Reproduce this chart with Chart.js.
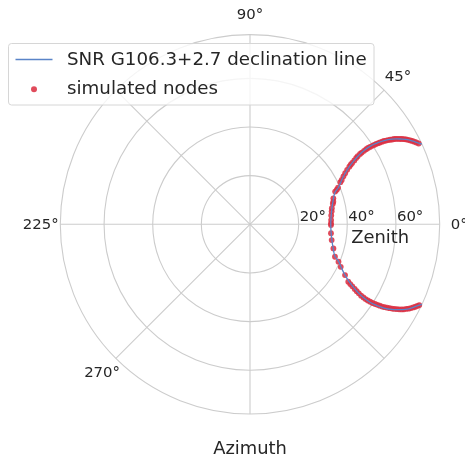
<!DOCTYPE html>
<html>
<head>
<meta charset="utf-8">
<script src="https://cdn.jsdelivr.net/npm/chart.js@4"></script>
<style>
  html, body { margin: 0; padding: 0; background: #fff; }
  #wrap { width: 465px; height: 455px; }
</style>
</head>
<body>
<div id="wrap"><canvas id="chart" width="465" height="455"></canvas></div>
<script>
// declination line (azimuth deg, zenith deg)
const lineAzimuth = [-25.0, -26.0, -28.0, -29.6, -31.0, -32.0, -32.6, -33.0, -32.9, -32.4, -31.4, -30.1, -28.2, -25.8, -22.6, -20.6, -15.8, -11.0, -5.5,
                     0, 5.5, 11.0, 15.8, 20.6, 22.6, 25.8, 28.2, 30.1, 31.4, 32.4, 32.9, 33.0, 32.6, 32.0, 31.0, 29.6, 28.0, 26.0, 25.0];
const lineZenith = [78.0, 76.5, 74.0, 71.0, 68.0, 65.0, 62.0, 59.0, 56.0, 53.0, 50.0, 47.2, 44.4, 41.9, 39.4, 37.3, 35.5, 34.3, 33.5,
                    33.2, 33.5, 34.3, 35.5, 37.3, 39.4, 41.9, 44.4, 47.2, 50.0, 53.0, 56.0, 59.0, 62.0, 65.0, 68.0, 71.0, 74.0, 76.5, 78.0];

// simulated nodes
const nodeAzimuth = [0.6, 3.0, 6.2, 9.0, 11.1, 14.0, 15.2, 17.3, 21.0, 21.7, 22.6, 25.0, 25.8, 27.2, 28.2, 29.3, 30.1, 30.6, 31.0, 31.5,
                     32.0, 32.3, 32.6, 32.7, 32.8, 32.9, 32.9, 32.8, 32.7, 32.6, 32.5, 32.3, 32.2, 32.0, 31.9, 31.6, 31.4, 31.1, 30.8, 30.6,
                     30.3, 30.0, 29.6, 29.3, 28.9, 28.5, 28.1, 27.6, 27.2, 26.7, 26.2, 25.6,
                     -0.5, -6.3, -10.9, -16.1, -20.9, -22.9, -25.1, -28.1, -30.3, -30.8, -31.2, -31.7, -32.1, -32.4, -32.7, -32.8, -32.9, -32.9,
                     -32.8, -32.7, -32.5, -32.3, -32.1, -31.9, -31.6, -31.3, -31.0, -30.7, -30.4, -30.0, -29.7, -29.3, -28.9, -28.4, -28.0,
                     -27.5, -27.0, -26.5, -26.0, -25.5];
const nodeZenith = [33.3, 33.4, 33.6, 34.0, 34.3, 35.1, 35.5, 35.9, 37.5, 38.4, 39.2, 41.0, 41.9, 43.2, 44.4, 45.8, 47.2, 48.1, 49.0, 50.3,
                    51.5, 52.4, 53.7, 54.6, 55.8, 56.9, 57.8, 58.7, 59.7, 60.6, 61.5, 62.4, 63.2, 64.1, 64.9, 65.7, 66.5, 67.3, 68.1, 68.9,
                    69.6, 70.3, 71.0, 71.7, 72.4, 73.1, 73.7, 74.4, 75.0, 75.6, 76.2, 76.9,
                    33.3, 33.5, 34.2, 35.7, 37.4, 39.5, 41.2, 44.3, 46.8, 48.0, 49.2, 50.6, 51.8, 53.0, 54.3, 55.5, 56.6, 57.7,
                    58.8, 59.9, 61.0, 62.0, 63.0, 64.0, 65.0, 66.0, 67.0, 67.9, 68.8, 69.7, 70.6, 71.5, 72.3, 73.1, 73.9,
                    74.6, 75.3, 76.0, 76.6, 77.1];

const zenithTicks = [20, 40, 60];
const zenithMax = 78;
const angleGrid = [0, 45, 90, 135, 180, 225, 270, 315];
const angleTickLabels = ['0°', '45°', '90°', '', '225°', '270°', '', ''];

const lineLabel = 'SNR G106.3+2.7 declination line';
const nodeLabel = 'simulated nodes';

const FONT = "'DejaVu Sans', sans-serif";
const TEXT = '#262626';
const GRID = '#cccccc';
const BLUE = '#5a84c8';
const RED = 'rgba(220, 50, 68, 0.88)';

function toXY(az, zen) {
    const a = az * Math.PI / 180;
    return { x: zen * Math.cos(a), y: zen * Math.sin(a) };
}

const polarGrid = {
    id: 'polarGrid',
    beforeDatasetsDraw(chart) {
        const { ctx, scales: { x, y } } = chart;
        const cx = x.getPixelForValue(0);
        const cy = y.getPixelForValue(0);
        const px = r => x.getPixelForValue(r) - cx;
        ctx.save();
        ctx.strokeStyle = GRID;
        ctx.lineWidth = 1.1;
        zenithTicks.concat([zenithMax]).forEach(r => {
            ctx.beginPath();
            ctx.arc(cx, cy, px(r), 0, Math.PI * 2);
            ctx.stroke();
        });
        const R = px(zenithMax);
        angleGrid.forEach(a => {
            const t = a * Math.PI / 180;
            ctx.beginPath();
            ctx.moveTo(cx, cy);
            ctx.lineTo(cx + R * Math.cos(t), cy - R * Math.sin(t));
            ctx.stroke();
        });

        ctx.fillStyle = TEXT;
        ctx.font = '14.9px ' + FONT;
        ctx.textAlign = 'center';
        ctx.textBaseline = 'middle';
        angleGrid.forEach((a, i) => {
            if (!angleTickLabels[i]) return;
            const t = a * Math.PI / 180;
            const d = R + 19.5;
            ctx.fillText(angleTickLabels[i], cx + d * Math.cos(t), cy - d * Math.sin(t) + 0.5);
        });
        ctx.textAlign = 'left';
        ctx.textBaseline = 'alphabetic';
        zenithTicks.forEach(r => {
            ctx.fillText(r + '°', cx + px(r) + 1, cy - 3.5);
        });

        ctx.font = '17.9px ' + FONT;
        ctx.textAlign = 'center';
        ctx.fillText('Zenith', cx + px(53.5), cy + 18.5);
        ctx.fillText('Azimuth', cx, cy + R + 39.5);
        ctx.restore();
    },
    afterDraw(chart) {
        const ctx = chart.ctx;
        const bx = 8.5, by = 43.5, bw = 365.5, bh = 61.5;
        ctx.save();
        ctx.beginPath();
        ctx.roundRect(bx, by, bw, bh, 3);
        ctx.fillStyle = 'rgba(255,255,255,0.8)';
        ctx.fill();
        ctx.strokeStyle = '#d6d6d6';
        ctx.lineWidth = 1;
        ctx.stroke();

        ctx.strokeStyle = BLUE;
        ctx.lineWidth = 1.4;
        ctx.beginPath();
        ctx.moveTo(15.5, 59.5);
        ctx.lineTo(52.5, 59.5);
        ctx.stroke();

        ctx.fillStyle = RED;
        ctx.beginPath();
        ctx.arc(34, 89.3, 3, 0, Math.PI * 2);
        ctx.fill();

        ctx.fillStyle = TEXT;
        ctx.font = '18.25px ' + FONT;
        ctx.textAlign = 'left';
        ctx.textBaseline = 'middle';
        ctx.fillText(chart.data.datasets[0].label, 67, 60.5);
        ctx.fillText(chart.data.datasets[1].label, 67, 89.5);
        ctx.restore();
    }
};

new Chart(document.getElementById('chart'), {
    type: 'scatter',
    data: {
        datasets: [{
            label: lineLabel,
            data: lineAzimuth.map((a, i) => toXY(a, lineZenith[i])),
            showLine: true,
            borderColor: BLUE,
            borderWidth: 1.3,
            pointRadius: 0,
            tension: 0.4,
            fill: false,
        }, {
            label: nodeLabel,
            data: nodeAzimuth.map((a, i) => toXY(a, nodeZenith[i])),
            backgroundColor: RED,
            borderWidth: 0,
            pointRadius: 2.9,
        }],
    },
    options: {
        responsive: false,
        animation: false,
        layout: { padding: { left: 60.3, right: 25.3, top: 34.6, bottom: 41 } },
        scales: {
            x: { type: 'linear', min: -zenithMax, max: zenithMax, display: false },
            y: { type: 'linear', min: -zenithMax, max: zenithMax, display: false },
        },
        plugins: {
            legend: { display: false },
            tooltip: { enabled: false },
        },
    },
    plugins: [polarGrid],
});
</script>
</body>
</html>
